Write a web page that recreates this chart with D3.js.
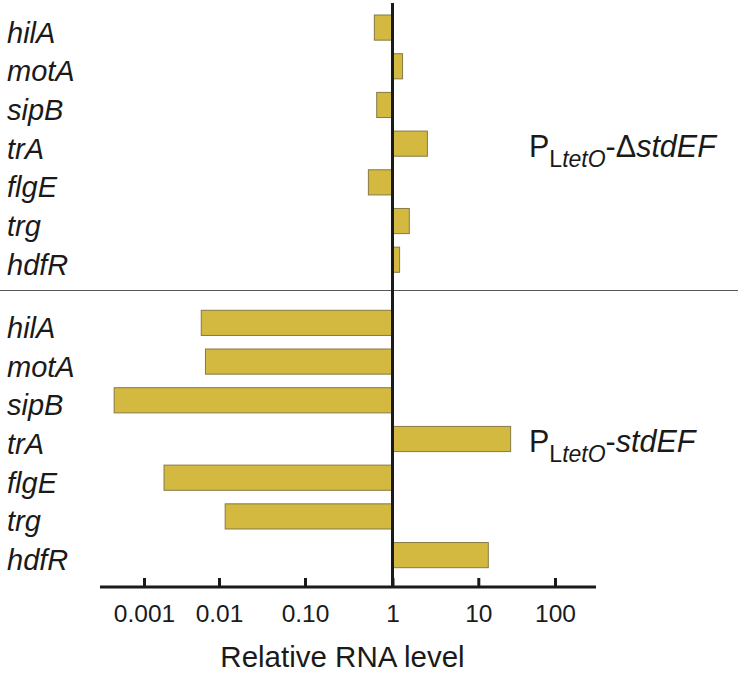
<!DOCTYPE html>
<html>
<head>
<meta charset="utf-8">
<script src="https://cdn.jsdelivr.net/npm/d3@7"></script>
<style>
  html, body { margin: 0; padding: 0; background: #fff; }
  svg { display: block; }
  text { font-family: "Liberation Sans", Arial, sans-serif; fill: #1a1a1a; }
</style>
</head>
<body>
<svg id="chart" width="742" height="675"></svg>
<script>
// ---- data ----
const genes = ["hilA", "motA", "sipB", "trA", "flgE", "trg", "hdfR"];
const deltaValues = [0.62, 1.31, 0.66, 2.55, 0.53, 1.57, 1.21];          // PLtetO-ΔstdEF
const overValues  = [0.0058, 0.0066, 0.0004, 26.4, 0.00185, 0.0118, 13.5]; // PLtetO-stdEF
const tickValues = [0.001, 0.01, 0.1, 1, 10, 100];
const tickLabels = ["0.001", "0.01", "0.10", "1", "10", "100"];
const axisTitle = "Relative RNA level";

const svg = d3.select("#chart");

// piecewise log scale (decades drawn slightly unevenly in the original)
const x = d3.scaleLog()
  .domain(tickValues)
  .range([144, 219, 305, 392.5, 478.3, 555]);

const yTop = d3.scaleBand().domain(genes).range([15, 272.3]).paddingInner(0.35).paddingOuter(0);
const yBot = d3.scaleBand().domain(genes).range([310.3, 567.7]).paddingInner(0.35).paddingOuter(0);

const axisY = 587;
const barFill = "#d3b940";
const barStroke = "#857a45";

function drawGroup(values, y) {
  const g = svg.append("g");
  g.selectAll("rect").data(genes).join("rect")
    .attr("x", (d, i) => x(Math.min(values[i], 1)))
    .attr("width", (d, i) => Math.abs(x(values[i]) - x(1)))
    .attr("y", d => y(d))
    .attr("height", y.bandwidth())
    .attr("fill", barFill)
    .attr("stroke", barStroke)
    .attr("stroke-width", 1);
  g.selectAll("text.gene").data(genes).join("text")
    .attr("class", "gene")
    .attr("x", 7)
    .attr("y", d => y(d) + y.bandwidth() / 2 + 15)
    .attr("font-size", 29)
    .attr("font-style", "italic")
    .text(d => d);
}

drawGroup(deltaValues, yTop);
drawGroup(overValues, yBot);

// separator
svg.append("line")
  .attr("x1", 0).attr("x2", 738)
  .attr("y1", 290.5).attr("y2", 290.5)
  .attr("stroke", "#555").attr("stroke-width", 1.2);

// axis
const axis = d3.axisBottom(x)
  .tickValues(tickValues)
  .tickFormat((d, i) => tickLabels[i])
  .tickSize(-9)
  .tickPadding(18);
const ag = svg.append("g").attr("transform", `translate(0,${axisY})`).call(axis);
ag.select(".domain").remove();
ag.selectAll(".tick line").attr("stroke", "#1a1a1a").attr("stroke-width", 3);
ag.selectAll(".tick text").attr("font-size", 24.5).attr("fill", "#1a1a1a")
  .attr("font-family", "Liberation Sans, Arial, sans-serif");
svg.append("line")
  .attr("x1", 100).attr("x2", 596)
  .attr("y1", axisY).attr("y2", axisY)
  .attr("stroke", "#1a1a1a").attr("stroke-width", 3);

// vertical reference line at 1
svg.append("line")
  .attr("x1", x(1)).attr("x2", x(1))
  .attr("y1", 3).attr("y2", axisY)
  .attr("stroke", "#1a1a1a").attr("stroke-width", 3);

// axis title
svg.append("text")
  .attr("x", 342.5).attr("y", 667)
  .attr("text-anchor", "middle")
  .attr("font-size", 29.5)
  .text(axisTitle);

// annotations
function annot(yBase, delta) {
  const t = svg.append("text").attr("x", 529).attr("y", yBase).attr("font-size", 30.5);
  t.append("tspan").text("P");
  t.append("tspan").attr("dy", 10).attr("font-size", 23).text("L");
  t.append("tspan").attr("font-size", 23).attr("font-style", "italic").text("tetO");
  t.append("tspan").attr("dy", -10).text(delta ? "-Δ" : "-");
  t.append("tspan").attr("font-style", "italic").text("stdEF");
}
annot(yTop("trA") + yTop.bandwidth() / 2 + 13, true);
annot(yBot("trA") + yBot.bandwidth() / 2 + 13, false);
</script>
</body>
</html>
